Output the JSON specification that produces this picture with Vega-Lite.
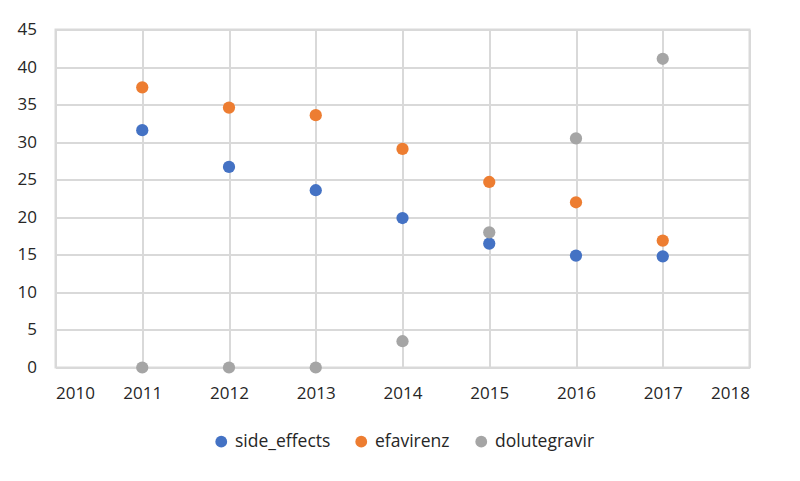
{
  "$schema": "https://vega.github.io/schema/vega-lite/v6.json",
  "width": 694,
  "height": 338,
  "autosize": "none",
  "padding": {"left": 55.5, "top": 29.5, "right": 50.5, "bottom": 113.5},
  "background": "white",
  "data": {
    "values": [
      {"year": 2011, "series": "side_effects", "value": 31.6},
      {"year": 2012, "series": "side_effects", "value": 26.7},
      {"year": 2013, "series": "side_effects", "value": 23.6},
      {"year": 2014, "series": "side_effects", "value": 19.9},
      {"year": 2015, "series": "side_effects", "value": 16.5},
      {"year": 2016, "series": "side_effects", "value": 14.9},
      {"year": 2017, "series": "side_effects", "value": 14.8},
      {"year": 2011, "series": "efavirenz", "value": 37.3},
      {"year": 2012, "series": "efavirenz", "value": 34.6},
      {"year": 2013, "series": "efavirenz", "value": 33.6},
      {"year": 2014, "series": "efavirenz", "value": 29.1},
      {"year": 2015, "series": "efavirenz", "value": 24.7},
      {"year": 2016, "series": "efavirenz", "value": 22.0},
      {"year": 2017, "series": "efavirenz", "value": 16.9},
      {"year": 2011, "series": "dolutegravir", "value": 0},
      {"year": 2012, "series": "dolutegravir", "value": 0},
      {"year": 2013, "series": "dolutegravir", "value": 0},
      {"year": 2014, "series": "dolutegravir", "value": 3.5},
      {"year": 2015, "series": "dolutegravir", "value": 18.0},
      {"year": 2016, "series": "dolutegravir", "value": 30.5},
      {"year": 2017, "series": "dolutegravir", "value": 41.1}
    ]
  },
  "mark": {"type": "circle", "size": 150, "opacity": 1},
  "encoding": {
    "x": {
      "field": "year", "type": "quantitative",
      "scale": {"domain": [2010, 2018], "nice": false, "zero": false},
      "axis": {"title": null, "values": [2010, 2011, 2012, 2013, 2014, 2015, 2016, 2017, 2018], "format": "d", "labelPadding": 18}
    },
    "y": {
      "field": "value", "type": "quantitative",
      "scale": {"domain": [0, 45], "nice": false},
      "axis": {"title": null, "values": [0, 5, 10, 15, 20, 25, 30, 35, 40, 45], "labelPadding": 19}
    },
    "color": {
      "field": "series", "type": "nominal",
      "scale": {"domain": ["side_effects", "efavirenz", "dolutegravir"], "range": ["#4472C4", "#ED7D31", "#A5A5A5"]},
      "legend": {
        "title": null, "orient": "none", "direction": "horizontal",
        "legendX": 157, "legendY": 403,
        "symbolType": "circle", "symbolSize": 140, "symbolStrokeWidth": 0,
        "labelFontSize": 17.5, "labelColor": "#262626", "labelOffset": 5,
        "columnPadding": 22, "labelFont": "Open Sans"
      }
    }
  },
  "config": {
    "font": "Open Sans",
    "view": {"stroke": "#D9D9D9", "strokeWidth": 2},
    "axis": {
      "grid": true, "gridColor": "#D9D9D9", "gridWidth": 2, "gridOpacity": 1,
      "domainColor": "#D9D9D9", "domainWidth": 2,
      "ticks": false, "labelFontSize": 17, "labelColor": "#262626", "labelFont": "Open Sans"
    }
  }
}
